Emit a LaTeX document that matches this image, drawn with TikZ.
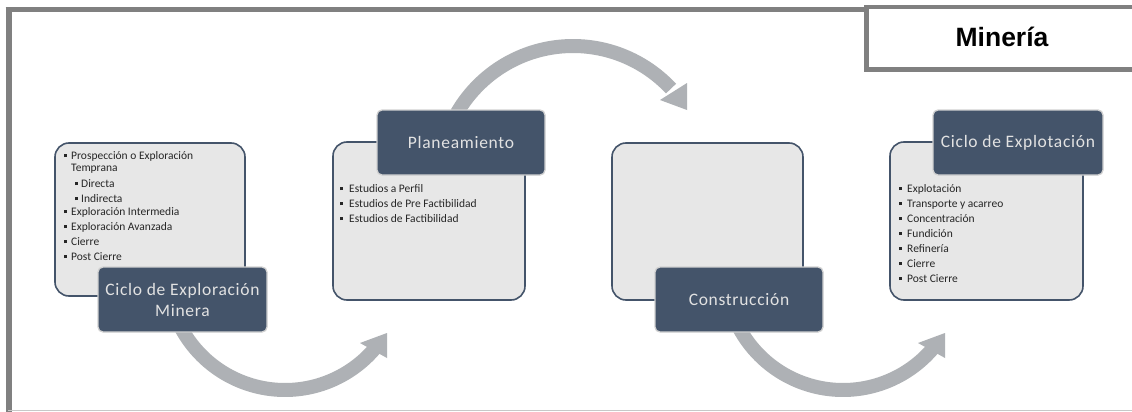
\documentclass[tikz,border=0pt]{standalone}
\usepackage{fontspec}
\setmainfont{Carlito}
\newfontfamily\arialf{Liberation Sans}
\newfontfamily\labelf{Carlito}[LetterSpace=4]
\definecolor{slate}{HTML}{44546A}
\definecolor{lightfill}{HTML}{E7E7E7}
\definecolor{arrowgray}{HTML}{AEB1B5}
\definecolor{framegray}{HTML}{808080}
\definecolor{labeltext}{HTML}{E2E2E2}
\definecolor{bottomgray}{HTML}{C8C8C8}
\newcommand{\sqbullet}{\raisebox{1.8pt}{\rule{3pt}{3pt}}}
\begin{document}
\begin{tikzpicture}[x=1pt,y=-1pt,
  lightbox/.style={draw=slate, line width=1.6pt, fill=lightfill, rounded corners=14pt, inner sep=0pt},
  darkbox/.style={draw=white!82!black, line width=1.3pt, fill=slate, rounded corners=5pt, text=labeltext,
    font=\labelf\fontsize{17.5}{21}\selectfont, align=center, inner sep=0pt},
  itemtext/.style={anchor=base west, inner sep=0pt, font=\fontsize{11.5}{13}\selectfont, text=black!85},
  bul/.style={anchor=base, inner sep=0pt, font=\fontsize{11.5}{13}\selectfont, text=black!85},
  shaft/.style={draw=arrowgray, line width=14pt},
  head/.style={fill=arrowgray}]
\useasboundingbox (0,0) rectangle (1132,412);
\fill[white] (0,0) rectangle (1132,412);

% frame
\draw[framegray, line width=6pt] (8.5,412) -- (8.5,10);
\draw[framegray, line width=5pt] (5.5,10) -- (866,10);
\draw[bottomgray, line width=1.5pt] (8,410.5) -- (1132,410.5);
\draw[framegray, line width=4.5pt] (1132,7) -- (866.5,7) -- (866.5,69.5) -- (1132,69.5);
\node[font=\arialf\bfseries\fontsize{26.5}{30}\selectfont, inner sep=0pt, anchor=base] (title) at (1002,47) {Minería};

% light boxes
\node[lightbox, minimum width=190pt, minimum height=153pt] (b1) at (150,219.5) {};
\node[lightbox, minimum width=192pt, minimum height=158pt] (b2) at (429,221) {};
\node[lightbox, minimum width=191pt, minimum height=157pt] (b3) at (707.5,221.5) {};
\node[lightbox, minimum width=193pt, minimum height=158pt] (b4) at (986.5,221) {};

% arrows
\draw[shaft] plot[domain=39:152, samples=80] ({285+118*cos(\x)},{272+118*sin(\x)});
\fill[head] (387,333) -- (360,343) -- (387,358) -- cycle;
\draw[shaft] plot[domain=210:317, samples=80] ({573+134*cos(\x)},{180+134*sin(\x)});
\fill[head] (687,83) -- (687,110) -- (660,100) -- cycle;
\draw[shaft] plot[domain=39:152, samples=80] ({843+118*cos(\x)},{272+118*sin(\x)});
\fill[head] (945,333) -- (918,343) -- (945,358) -- cycle;

% dark boxes
\node[darkbox, minimum width=169pt, minimum height=65pt] (d1) at (182.5,299.5) {Ciclo de Exploración\\Minera};
\node[darkbox, minimum width=168pt, minimum height=65pt] (d2) at (461,142.5) {Planeamiento};
\node[darkbox, minimum width=168pt, minimum height=65pt] (d3) at (739,299.5) {Construcción};
\node[darkbox, minimum width=170pt, minimum height=65pt] (d4) at (1018,142.5) {Ciclo de Explotación};

% list box 1
\node[bul] (p1) at (65,159) {\sqbullet};
\node[itemtext] (t1) at (71,159) {Prospección o Exploración};
\node[itemtext] (t1b) at (71,171) {Temprana};
\node[bul] (p2) at (76,187) {\sqbullet};
\node[itemtext] (t2) at (81,187) {Directa};
\node[bul] (p3) at (76,202) {\sqbullet};
\node[itemtext] (t3) at (81,202) {Indirecta};
\node[bul] (p4) at (65,215) {\sqbullet};
\node[itemtext] (t4) at (71,215) {Exploración Intermedia};
\node[bul] (p5) at (65,230) {\sqbullet};
\node[itemtext] (t5) at (71,230) {Exploración Avanzada};
\node[bul] (p6) at (65,245) {\sqbullet};
\node[itemtext] (t6) at (71,245) {Cierre};
\node[bul] (p7) at (65,260) {\sqbullet};
\node[itemtext] (t7) at (71,260) {Post Cierre};

% list box 2
\foreach \t [count=\i] in {Estudios a Perfil, Estudios de Pre Factibilidad, Estudios de Factibilidad}{
  \node[bul] (q\i) at (341,177+15*\i) {\sqbullet};
  \node[itemtext] (u\i) at (349,177+15*\i) {\t};
}

% list box 4
\foreach \t [count=\i] in {Explotación, Transporte y acarreo, Concentración, Fundición, Refinería, Cierre, Post Cierre}{
  \node[bul] (r\i) at (900,177+15*\i) {\sqbullet};
  \node[itemtext] (v\i) at (907,177+15*\i) {\t};
}
\end{tikzpicture}
\end{document}
